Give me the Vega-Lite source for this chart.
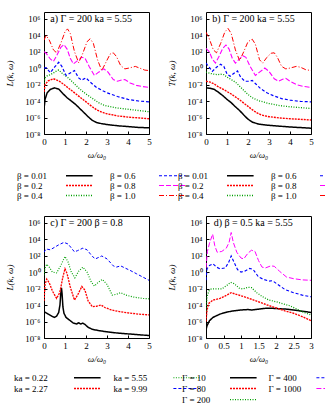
{
"$schema": "https://vega.github.io/schema/vega-lite/v6.json",
"padding": {"left": 5, "top": 11, "right": 0, "bottom": 0},
"datasets": {
"a": [
{"s":"0.01","x":0,"lg":-5.0},{"s":"0.01","x":0.05,"lg":-3.8},{"s":"0.01","x":0.15,"lg":-3.0},{"s":"0.01","x":0.3,"lg":-2.6},{"s":"0.01","x":0.5,"lg":-2.4},{"s":"0.01","x":0.7,"lg":-2.55},{"s":"0.01","x":0.9,"lg":-3.1},{"s":"0.01","x":1.1,"lg":-3.6},{"s":"0.01","x":1.3,"lg":-4.0},{"s":"0.01","x":1.5,"lg":-4.4},{"s":"0.01","x":1.7,"lg":-4.9},{"s":"0.01","x":1.9,"lg":-5.4},{"s":"0.01","x":2.1,"lg":-5.9},{"s":"0.01","x":2.3,"lg":-6.35},{"s":"0.01","x":2.5,"lg":-6.6},{"s":"0.01","x":2.75,"lg":-6.75},{"s":"0.01","x":3,"lg":-6.85},{"s":"0.01","x":3.5,"lg":-7.0},{"s":"0.01","x":4,"lg":-7.1},{"s":"0.01","x":4.5,"lg":-7.2},{"s":"0.01","x":5,"lg":-7.25},
{"s":"0.2","x":0,"lg":-2.9},{"s":"0.2","x":0.05,"lg":-2.0},{"s":"0.2","x":0.2,"lg":-1.55},{"s":"0.2","x":0.45,"lg":-1.3},{"s":"0.2","x":0.7,"lg":-1.55},{"s":"0.2","x":0.9,"lg":-1.9},{"s":"0.2","x":1.1,"lg":-2.3},{"s":"0.2","x":1.3,"lg":-2.7},{"s":"0.2","x":1.5,"lg":-3.1},{"s":"0.2","x":1.7,"lg":-3.5},{"s":"0.2","x":1.9,"lg":-3.9},{"s":"0.2","x":2.1,"lg":-4.3},{"s":"0.2","x":2.3,"lg":-4.7},{"s":"0.2","x":2.5,"lg":-5.05},{"s":"0.2","x":2.75,"lg":-5.35},{"s":"0.2","x":3,"lg":-5.55},{"s":"0.2","x":3.5,"lg":-5.8},{"s":"0.2","x":4,"lg":-5.95},{"s":"0.2","x":4.5,"lg":-6.05},{"s":"0.2","x":5,"lg":-6.15},
{"s":"0.4","x":0,"lg":-1.8},{"s":"0.4","x":0.05,"lg":-1.2},{"s":"0.4","x":0.15,"lg":-0.95},{"s":"0.4","x":0.3,"lg":-0.8},{"s":"0.4","x":0.45,"lg":-0.6},{"s":"0.4","x":0.6,"lg":-0.35},{"s":"0.4","x":0.7,"lg":-0.25},{"s":"0.4","x":0.85,"lg":-0.6},{"s":"0.4","x":1,"lg":-0.9},{"s":"0.4","x":1.2,"lg":-1.3},{"s":"0.4","x":1.4,"lg":-1.8},{"s":"0.4","x":1.6,"lg":-2.3},{"s":"0.4","x":1.8,"lg":-2.75},{"s":"0.4","x":2,"lg":-3.15},{"s":"0.4","x":2.2,"lg":-3.5},{"s":"0.4","x":2.4,"lg":-3.85},{"s":"0.4","x":2.6,"lg":-4.2},{"s":"0.4","x":2.8,"lg":-4.45},{"s":"0.4","x":3,"lg":-4.6},{"s":"0.4","x":3.5,"lg":-4.85},{"s":"0.4","x":4,"lg":-5.0},{"s":"0.4","x":4.5,"lg":-5.15},{"s":"0.4","x":5,"lg":-5.3},
{"s":"0.6","x":0,"lg":0.0},{"s":"0.6","x":0.1,"lg":0.05},{"s":"0.6","x":0.3,"lg":-0.55},{"s":"0.6","x":0.5,"lg":0.1},{"s":"0.6","x":0.7,"lg":0.7},{"s":"0.6","x":0.85,"lg":0.2},{"s":"0.6","x":1.05,"lg":-0.9},{"s":"0.6","x":1.25,"lg":-0.6},{"s":"0.6","x":1.45,"lg":-0.3},{"s":"0.6","x":1.65,"lg":-1.2},{"s":"0.6","x":1.8,"lg":-1.45},{"s":"0.6","x":2,"lg":-1.2},{"s":"0.6","x":2.2,"lg":-1.7},{"s":"0.6","x":2.5,"lg":-2.35},{"s":"0.6","x":2.8,"lg":-2.75},{"s":"0.6","x":3,"lg":-3.0},{"s":"0.6","x":3.5,"lg":-3.45},{"s":"0.6","x":4,"lg":-3.8},{"s":"0.6","x":4.5,"lg":-4.0},{"s":"0.6","x":5,"lg":-4.1},
{"s":"0.8","x":0,"lg":2.0},{"s":"0.8","x":0.1,"lg":1.8},{"s":"0.8","x":0.3,"lg":1.1},{"s":"0.8","x":0.45,"lg":0.8},{"s":"0.8","x":0.6,"lg":1.5},{"s":"0.8","x":0.8,"lg":2.5},{"s":"0.8","x":0.95,"lg":2.85},{"s":"0.8","x":1.1,"lg":2.3},{"s":"0.8","x":1.25,"lg":1.2},{"s":"0.8","x":1.4,"lg":0.5},{"s":"0.8","x":1.6,"lg":0.9},{"s":"0.8","x":1.8,"lg":1.3},{"s":"0.8","x":1.95,"lg":1.2},{"s":"0.8","x":2.15,"lg":0.2},{"s":"0.8","x":2.4,"lg":-0.9},{"s":"0.8","x":2.6,"lg":-0.5},{"s":"0.8","x":2.85,"lg":-0.1},{"s":"0.8","x":3.05,"lg":-0.5},{"s":"0.8","x":3.3,"lg":-1.4},{"s":"0.8","x":3.5,"lg":-1.6},{"s":"0.8","x":3.7,"lg":-1.45},{"s":"0.8","x":3.85,"lg":-1.4},{"s":"0.8","x":4.1,"lg":-1.8},{"s":"0.8","x":4.4,"lg":-2.1},{"s":"0.8","x":4.7,"lg":-2.25},{"s":"0.8","x":5,"lg":-2.35},
{"s":"1.0","x":0,"lg":3.4},{"s":"1.0","x":0.1,"lg":3.95},{"s":"1.0","x":0.25,"lg":3.4},{"s":"1.0","x":0.45,"lg":2.2},{"s":"1.0","x":0.6,"lg":1.85},{"s":"1.0","x":0.8,"lg":3.0},{"s":"1.0","x":1,"lg":4.4},{"s":"1.0","x":1.12,"lg":4.75},{"s":"1.0","x":1.25,"lg":4.2},{"s":"1.0","x":1.45,"lg":2.0},{"s":"1.0","x":1.65,"lg":0.65},{"s":"1.0","x":1.85,"lg":1.8},{"s":"1.0","x":2.05,"lg":3.2},{"s":"1.0","x":2.2,"lg":3.55},{"s":"1.0","x":2.35,"lg":3.0},{"s":"1.0","x":2.55,"lg":1.0},{"s":"1.0","x":2.75,"lg":-0.3},{"s":"1.0","x":2.95,"lg":0.7},{"s":"1.0","x":3.15,"lg":1.7},{"s":"1.0","x":3.3,"lg":1.85},{"s":"1.0","x":3.45,"lg":1.4},{"s":"1.0","x":3.65,"lg":0.3},{"s":"1.0","x":3.85,"lg":-0.1},{"s":"1.0","x":4.05,"lg":0.0},{"s":"1.0","x":4.35,"lg":0.2},{"s":"1.0","x":4.55,"lg":0.0},{"s":"1.0","x":4.8,"lg":-0.25},{"s":"1.0","x":5,"lg":-0.3}
],
"b": [
{"s":"0.01","x":0,"lg":-2.4},{"s":"0.01","x":0.2,"lg":-2.45},{"s":"0.01","x":0.4,"lg":-2.6},{"s":"0.01","x":0.6,"lg":-2.95},{"s":"0.01","x":0.8,"lg":-3.35},{"s":"0.01","x":1,"lg":-3.8},{"s":"0.01","x":1.2,"lg":-4.2},{"s":"0.01","x":1.4,"lg":-4.7},{"s":"0.01","x":1.6,"lg":-5.15},{"s":"0.01","x":1.8,"lg":-5.7},{"s":"0.01","x":2,"lg":-6.2},{"s":"0.01","x":2.2,"lg":-6.55},{"s":"0.01","x":2.5,"lg":-6.8},{"s":"0.01","x":3,"lg":-6.95},{"s":"0.01","x":3.5,"lg":-7.05},{"s":"0.01","x":4,"lg":-7.15},{"s":"0.01","x":4.5,"lg":-7.22},{"s":"0.01","x":5,"lg":-7.3},
{"s":"0.2","x":0,"lg":-1.6},{"s":"0.2","x":0.2,"lg":-1.7},{"s":"0.2","x":0.4,"lg":-1.95},{"s":"0.2","x":0.6,"lg":-2.3},{"s":"0.2","x":0.8,"lg":-2.55},{"s":"0.2","x":1,"lg":-2.85},{"s":"0.2","x":1.2,"lg":-3.15},{"s":"0.2","x":1.4,"lg":-3.5},{"s":"0.2","x":1.6,"lg":-3.85},{"s":"0.2","x":1.8,"lg":-4.25},{"s":"0.2","x":2,"lg":-4.65},{"s":"0.2","x":2.2,"lg":-5.05},{"s":"0.2","x":2.4,"lg":-5.4},{"s":"0.2","x":2.6,"lg":-5.65},{"s":"0.2","x":2.8,"lg":-5.8},{"s":"0.2","x":3,"lg":-5.9},{"s":"0.2","x":3.5,"lg":-6.05},{"s":"0.2","x":4,"lg":-6.15},{"s":"0.2","x":4.5,"lg":-6.22},{"s":"0.2","x":5,"lg":-6.3},
{"s":"0.4","x":0,"lg":-0.5},{"s":"0.4","x":0.2,"lg":-0.65},{"s":"0.4","x":0.4,"lg":-0.75},{"s":"0.4","x":0.55,"lg":-0.8},{"s":"0.4","x":0.7,"lg":-0.75},{"s":"0.4","x":0.85,"lg":-0.8},{"s":"0.4","x":1,"lg":-1.1},{"s":"0.4","x":1.2,"lg":-1.4},{"s":"0.4","x":1.4,"lg":-1.7},{"s":"0.4","x":1.6,"lg":-2.2},{"s":"0.4","x":1.8,"lg":-2.7},{"s":"0.4","x":2,"lg":-3.2},{"s":"0.4","x":2.2,"lg":-3.6},{"s":"0.4","x":2.5,"lg":-3.95},{"s":"0.4","x":3,"lg":-4.3},{"s":"0.4","x":3.5,"lg":-4.55},{"s":"0.4","x":4,"lg":-4.7},{"s":"0.4","x":4.5,"lg":-4.8},{"s":"0.4","x":5,"lg":-4.9},
{"s":"0.6","x":0,"lg":0.6},{"s":"0.6","x":0.15,"lg":0.1},{"s":"0.6","x":0.3,"lg":-0.4},{"s":"0.6","x":0.5,"lg":0.1},{"s":"0.6","x":0.7,"lg":0.45},{"s":"0.6","x":0.85,"lg":0.2},{"s":"0.6","x":1,"lg":-0.7},{"s":"0.6","x":1.15,"lg":-1.0},{"s":"0.6","x":1.35,"lg":-0.6},{"s":"0.6","x":1.5,"lg":-0.35},{"s":"0.6","x":1.65,"lg":-1.1},{"s":"0.6","x":1.85,"lg":-1.6},{"s":"0.6","x":2.05,"lg":-1.6},{"s":"0.6","x":2.2,"lg":-1.5},{"s":"0.6","x":2.4,"lg":-2.0},{"s":"0.6","x":2.6,"lg":-2.5},{"s":"0.6","x":2.9,"lg":-3.0},{"s":"0.6","x":3.2,"lg":-3.35},{"s":"0.6","x":3.6,"lg":-3.7},{"s":"0.6","x":4,"lg":-3.9},{"s":"0.6","x":4.5,"lg":-4.05},{"s":"0.6","x":5,"lg":-4.1},
{"s":"0.8","x":0,"lg":2.4},{"s":"0.8","x":0.15,"lg":2.0},{"s":"0.8","x":0.3,"lg":1.1},{"s":"0.8","x":0.45,"lg":0.6},{"s":"0.8","x":0.6,"lg":1.3},{"s":"0.8","x":0.8,"lg":2.4},{"s":"0.8","x":0.95,"lg":2.8},{"s":"0.8","x":1.1,"lg":2.3},{"s":"0.8","x":1.25,"lg":1.2},{"s":"0.8","x":1.4,"lg":0.6},{"s":"0.8","x":1.55,"lg":1.0},{"s":"0.8","x":1.75,"lg":1.5},{"s":"0.8","x":1.9,"lg":1.3},{"s":"0.8","x":2.1,"lg":0.2},{"s":"0.8","x":2.35,"lg":-0.9},{"s":"0.8","x":2.55,"lg":-0.5},{"s":"0.8","x":2.8,"lg":0.0},{"s":"0.8","x":3,"lg":-0.4},{"s":"0.8","x":3.25,"lg":-1.3},{"s":"0.8","x":3.45,"lg":-1.6},{"s":"0.8","x":3.65,"lg":-1.35},{"s":"0.8","x":3.8,"lg":-1.25},{"s":"0.8","x":4,"lg":-1.6},{"s":"0.8","x":4.3,"lg":-2.0},{"s":"0.8","x":4.6,"lg":-2.2},{"s":"0.8","x":5,"lg":-2.35},
{"s":"1.0","x":0,"lg":4.35},{"s":"1.0","x":0.15,"lg":3.6},{"s":"1.0","x":0.35,"lg":2.2},{"s":"1.0","x":0.5,"lg":1.85},{"s":"1.0","x":0.7,"lg":3.0},{"s":"1.0","x":0.9,"lg":4.4},{"s":"1.0","x":1.05,"lg":4.8},{"s":"1.0","x":1.2,"lg":4.2},{"s":"1.0","x":1.4,"lg":2.2},{"s":"1.0","x":1.6,"lg":0.9},{"s":"1.0","x":1.8,"lg":2.0},{"s":"1.0","x":2,"lg":3.2},{"s":"1.0","x":2.2,"lg":3.5},{"s":"1.0","x":2.35,"lg":2.9},{"s":"1.0","x":2.55,"lg":1.0},{"s":"1.0","x":2.7,"lg":0.6},{"s":"1.0","x":2.9,"lg":1.3},{"s":"1.0","x":3.1,"lg":1.8},{"s":"1.0","x":3.25,"lg":1.85},{"s":"1.0","x":3.4,"lg":1.3},{"s":"1.0","x":3.6,"lg":0.2},{"s":"1.0","x":3.8,"lg":-0.1},{"s":"1.0","x":4,"lg":0.0},{"s":"1.0","x":4.3,"lg":0.2},{"s":"1.0","x":4.5,"lg":0.1},{"s":"1.0","x":4.75,"lg":-0.2},{"s":"1.0","x":5,"lg":-0.3}
],
"c": [
{"s":"0.22","x":0,"lg":-4.8},{"s":"0.22","x":0.2,"lg":-5.1},{"s":"0.22","x":0.4,"lg":-5.4},{"s":"0.22","x":0.5,"lg":-5.5},{"s":"0.22","x":0.6,"lg":-5.35},{"s":"0.22","x":0.7,"lg":-4.9},{"s":"0.22","x":0.76,"lg":-4.0},{"s":"0.22","x":0.8,"lg":-2.6},{"s":"0.22","x":0.83,"lg":-1.9},{"s":"0.22","x":0.86,"lg":-2.6},{"s":"0.22","x":0.9,"lg":-4.2},{"s":"0.22","x":0.95,"lg":-5.0},{"s":"0.22","x":1.05,"lg":-5.5},{"s":"0.22","x":1.2,"lg":-5.8},{"s":"0.22","x":1.4,"lg":-6.2},{"s":"0.22","x":1.55,"lg":-6.3},{"s":"0.22","x":1.65,"lg":-6.15},{"s":"0.22","x":1.75,"lg":-6.3},{"s":"0.22","x":1.85,"lg":-6.2},{"s":"0.22","x":1.95,"lg":-6.35},{"s":"0.22","x":2.1,"lg":-6.7},{"s":"0.22","x":2.3,"lg":-6.95},{"s":"0.22","x":2.6,"lg":-7.1},{"s":"0.22","x":3,"lg":-7.25},{"s":"0.22","x":3.5,"lg":-7.4},{"s":"0.22","x":4,"lg":-7.5},{"s":"0.22","x":4.5,"lg":-7.6},{"s":"0.22","x":5,"lg":-7.7},
{"s":"2.27","x":0,"lg":-3.5},{"s":"2.27","x":0.05,"lg":-1.5},{"s":"2.27","x":0.13,"lg":-0.85},{"s":"2.27","x":0.25,"lg":-1.3},{"s":"2.27","x":0.4,"lg":-2.3},{"s":"2.27","x":0.6,"lg":-3.2},{"s":"2.27","x":0.75,"lg":-2.5},{"s":"2.27","x":0.9,"lg":-0.6},{"s":"2.27","x":1,"lg":0.4},{"s":"2.27","x":1.1,"lg":-0.2},{"s":"2.27","x":1.25,"lg":-1.8},{"s":"2.27","x":1.45,"lg":-3.4},{"s":"2.27","x":1.6,"lg":-2.8},{"s":"2.27","x":1.8,"lg":-1.75},{"s":"2.27","x":1.95,"lg":-2.2},{"s":"2.27","x":2.1,"lg":-3.5},{"s":"2.27","x":2.3,"lg":-4.2},{"s":"2.27","x":2.5,"lg":-4.15},{"s":"2.27","x":2.72,"lg":-4.0},{"s":"2.27","x":2.9,"lg":-4.3},{"s":"2.27","x":3.2,"lg":-4.6},{"s":"2.27","x":3.6,"lg":-4.8},{"s":"2.27","x":4,"lg":-4.95},{"s":"2.27","x":4.5,"lg":-5.1},{"s":"2.27","x":5,"lg":-5.2},
{"s":"5.55","x":0,"lg":-0.4},{"s":"5.55","x":0.05,"lg":0.5},{"s":"5.55","x":0.13,"lg":0.95},{"s":"5.55","x":0.25,"lg":0.6},{"s":"5.55","x":0.4,"lg":0.0},{"s":"5.55","x":0.6,"lg":-0.1},{"s":"5.55","x":0.8,"lg":0.8},{"s":"5.55","x":1,"lg":1.9},{"s":"5.55","x":1.15,"lg":1.2},{"s":"5.55","x":1.3,"lg":0.0},{"s":"5.55","x":1.47,"lg":-0.7},{"s":"5.55","x":1.65,"lg":0.1},{"s":"5.55","x":1.85,"lg":0.6},{"s":"5.55","x":2.05,"lg":0.0},{"s":"5.55","x":2.25,"lg":-1.2},{"s":"5.55","x":2.4,"lg":-1.7},{"s":"5.55","x":2.6,"lg":-1.2},{"s":"5.55","x":2.78,"lg":-0.9},{"s":"5.55","x":3,"lg":-1.5},{"s":"5.55","x":3.25,"lg":-2.8},{"s":"5.55","x":3.45,"lg":-2.7},{"s":"5.55","x":3.65,"lg":-2.5},{"s":"5.55","x":3.9,"lg":-2.8},{"s":"5.55","x":4.3,"lg":-3.05},{"s":"5.55","x":4.7,"lg":-3.2},{"s":"5.55","x":5,"lg":-3.25},
{"s":"9.99","x":0,"lg":2.4},{"s":"9.99","x":0.1,"lg":2.8},{"s":"9.99","x":0.3,"lg":2.7},{"s":"9.99","x":0.5,"lg":3.0},{"s":"9.99","x":0.7,"lg":3.3},{"s":"9.99","x":0.95,"lg":3.6},{"s":"9.99","x":1.15,"lg":3.4},{"s":"9.99","x":1.45,"lg":2.45},{"s":"9.99","x":1.6,"lg":2.6},{"s":"9.99","x":1.85,"lg":2.9},{"s":"9.99","x":2.05,"lg":2.7},{"s":"9.99","x":2.3,"lg":1.9},{"s":"9.99","x":2.45,"lg":1.6},{"s":"9.99","x":2.75,"lg":1.95},{"s":"9.99","x":3,"lg":1.6},{"s":"9.99","x":3.3,"lg":0.75},{"s":"9.99","x":3.45,"lg":0.6},{"s":"9.99","x":3.65,"lg":0.75},{"s":"9.99","x":3.85,"lg":0.5},{"s":"9.99","x":4.1,"lg":0.2},{"s":"9.99","x":4.4,"lg":-0.2},{"s":"9.99","x":4.7,"lg":-0.6},{"s":"9.99","x":5,"lg":-1.0}
],
"d": [
{"s":"10","x":0,"lg":-7.0},{"s":"10","x":0.03,"lg":-6.5},{"s":"10","x":0.1,"lg":-5.9},{"s":"10","x":0.2,"lg":-5.5},{"s":"10","x":0.4,"lg":-5.1},{"s":"10","x":0.6,"lg":-4.85},{"s":"10","x":0.8,"lg":-4.7},{"s":"10","x":1,"lg":-4.6},{"s":"10","x":1.2,"lg":-4.55},{"s":"10","x":1.3,"lg":-4.6},{"s":"10","x":1.5,"lg":-4.5},{"s":"10","x":1.7,"lg":-4.4},{"s":"10","x":1.9,"lg":-4.4},{"s":"10","x":2.1,"lg":-4.45},{"s":"10","x":2.3,"lg":-4.5},{"s":"10","x":2.5,"lg":-4.6},{"s":"10","x":2.75,"lg":-4.75},{"s":"10","x":3,"lg":-4.9},
{"s":"80","x":0,"lg":-6.0},{"s":"80","x":0.03,"lg":-4.6},{"s":"80","x":0.08,"lg":-3.8},{"s":"80","x":0.2,"lg":-3.4},{"s":"80","x":0.4,"lg":-3.2},{"s":"80","x":0.55,"lg":-2.9},{"s":"80","x":0.72,"lg":-2.5},{"s":"80","x":0.9,"lg":-2.75},{"s":"80","x":1.1,"lg":-3.0},{"s":"80","x":1.3,"lg":-3.3},{"s":"80","x":1.5,"lg":-3.6},{"s":"80","x":1.75,"lg":-4.0},{"s":"80","x":2,"lg":-4.35},{"s":"80","x":2.25,"lg":-4.7},{"s":"80","x":2.5,"lg":-5.0},{"s":"80","x":2.75,"lg":-5.4},{"s":"80","x":3,"lg":-5.9},
{"s":"200","x":0,"lg":-4.7},{"s":"200","x":0.03,"lg":-3.0},{"s":"200","x":0.08,"lg":-2.3},{"s":"200","x":0.15,"lg":-2.05},{"s":"200","x":0.3,"lg":-2.05},{"s":"200","x":0.45,"lg":-2.05},{"s":"200","x":0.6,"lg":-1.6},{"s":"200","x":0.7,"lg":-1.25},{"s":"200","x":0.8,"lg":-1.4},{"s":"200","x":0.95,"lg":-1.95},{"s":"200","x":1.05,"lg":-2.05},{"s":"200","x":1.2,"lg":-1.85},{"s":"200","x":1.3,"lg":-1.9},{"s":"200","x":1.45,"lg":-2.5},{"s":"200","x":1.6,"lg":-2.95},{"s":"200","x":1.8,"lg":-3.4},{"s":"200","x":2,"lg":-3.6},{"s":"200","x":2.2,"lg":-3.85},{"s":"200","x":2.4,"lg":-4.1},{"s":"200","x":2.6,"lg":-4.5},{"s":"200","x":2.8,"lg":-4.9},{"s":"200","x":3,"lg":-5.2},
{"s":"400","x":0,"lg":-1.0},{"s":"400","x":0.03,"lg":0.4},{"s":"400","x":0.1,"lg":0.8},{"s":"400","x":0.2,"lg":1.0},{"s":"400","x":0.3,"lg":0.6},{"s":"400","x":0.4,"lg":0.4},{"s":"400","x":0.55,"lg":0.5},{"s":"400","x":0.65,"lg":1.2},{"s":"400","x":0.72,"lg":1.95},{"s":"400","x":0.8,"lg":1.2},{"s":"400","x":0.9,"lg":0.3},{"s":"400","x":1,"lg":0.0},{"s":"400","x":1.1,"lg":0.1},{"s":"400","x":1.25,"lg":0.45},{"s":"400","x":1.35,"lg":0.3},{"s":"400","x":1.5,"lg":-0.6},{"s":"400","x":1.65,"lg":-0.9},{"s":"400","x":1.8,"lg":-1.1},{"s":"400","x":1.9,"lg":-1.05},{"s":"400","x":2.05,"lg":-1.5},{"s":"400","x":2.25,"lg":-2.1},{"s":"400","x":2.5,"lg":-2.5},{"s":"400","x":2.75,"lg":-2.8},{"s":"400","x":3,"lg":-3.0},
{"s":"1000","x":0,"lg":0.5},{"s":"1000","x":0.04,"lg":2.5},{"s":"1000","x":0.1,"lg":3.5},{"s":"1000","x":0.19,"lg":4.6},{"s":"1000","x":0.25,"lg":3.2},{"s":"1000","x":0.32,"lg":2.4},{"s":"1000","x":0.45,"lg":2.5},{"s":"1000","x":0.58,"lg":2.9},{"s":"1000","x":0.66,"lg":3.6},{"s":"1000","x":0.72,"lg":4.8},{"s":"1000","x":0.78,"lg":3.6},{"s":"1000","x":0.88,"lg":2.4},{"s":"1000","x":1,"lg":1.7},{"s":"1000","x":1.08,"lg":1.6},{"s":"1000","x":1.2,"lg":2.3},{"s":"1000","x":1.3,"lg":2.65},{"s":"1000","x":1.4,"lg":2.5},{"s":"1000","x":1.5,"lg":1.4},{"s":"1000","x":1.6,"lg":0.6},{"s":"1000","x":1.7,"lg":0.5},{"s":"1000","x":1.85,"lg":0.75},{"s":"1000","x":1.95,"lg":0.7},{"s":"1000","x":2.1,"lg":0.1},{"s":"1000","x":2.3,"lg":-0.6},{"s":"1000","x":2.5,"lg":-0.8},{"s":"1000","x":2.75,"lg":-0.95},{"s":"1000","x":3,"lg":-1.0}
]
},
"concat": [
{"width": 105, "height": 122,
 "layer": [
  {"data": {"name": "a"}, "mark": {"type": "line", "clip": true},
   "encoding": {
    "x": {"field": "x", "type": "quantitative", "scale": {"domain": [0, 5], "nice": false}, "axis": {"values": [0,1,2,3,4,5], "tickCount": 20, "format": "~g", "title": "ω/ω₀", "labelOverlap": false}},
    "y": {"field": "lg", "type": "quantitative", "scale": {"domain": [-8, 6.8], "nice": false, "zero": false}, "axis": {"values": [-8,-6,-4,-2,0,2,4,6], "tickCount": 20, "title": "L(k, ω)", "labelOverlap": false, "labelExpr": "'10' + (datum.value < 0 ? '⁻' : '') + substring('⁰¹²³⁴⁵⁶⁷⁸⁹', abs(datum.value), abs(datum.value) + 1)"}},
    "color": {"field": "s", "type": "nominal", "scale": {"domain": ["0.01","0.2","0.4","0.6","0.8","1.0"], "range": ["#000000","#ff0000","#00a000","#0000ff","#ff00ff","#ff0000"]}, "legend": {"title": null, "labelExpr": "'β = ' + datum.label", "legendX": -29, "legendY": 159, "symbolOffset": 59.8, "labelOffset": -66.8, "columnPadding": 12, "rowPadding": 0}},
    "strokeDash": {"field": "s", "type": "nominal", "scale": {"domain": ["0.01","0.2","0.4","0.6","0.8","1.0"], "range": [[1,0],[2,1],[1,1.5],[3,2],[5,2],[5,2,1,2]]}, "legend": {"title": null, "labelExpr": "'β = ' + datum.label", "legendX": -29, "legendY": 159, "symbolOffset": 59.8, "labelOffset": -66.8, "columnPadding": 12, "rowPadding": 0}},
    "strokeWidth": {"field": "s", "type": "nominal", "scale": {"domain": ["0.01","0.2","0.4","0.6","0.8","1.0"], "range": [1.5,1,1,1,1,1]}, "legend": null}
   }},
  {"data": {"values": [{}]}, "mark": {"type": "text", "align": "left", "baseline": "middle", "fontSize": 10},
   "encoding": {"x": {"datum": 0.3}, "y": {"datum": 6}, "text": {"value": "a) Γ = 200   ka = 5.55"}}}
 ]},
{"width": 105, "height": 122,
 "layer": [
  {"data": {"name": "b"}, "mark": {"type": "line", "clip": true},
   "encoding": {
    "x": {"field": "x", "type": "quantitative", "scale": {"domain": [0, 5], "nice": false}, "axis": {"values": [0,1,2,3,4,5], "tickCount": 20, "format": "~g", "title": "ω/ω₀", "labelOverlap": false}},
    "y": {"field": "lg", "type": "quantitative", "scale": {"domain": [-8, 6.8], "nice": false, "zero": false}, "axis": {"values": [-8,-6,-4,-2,0,2,4,6], "tickCount": 20, "title": "T(k, ω)", "labelOverlap": false, "labelExpr": "'10' + (datum.value < 0 ? '⁻' : '') + substring('⁰¹²³⁴⁵⁶⁷⁸⁹', abs(datum.value), abs(datum.value) + 1)"}},
    "color": {"field": "s", "type": "nominal", "scale": {"domain": ["0.01","0.2","0.4","0.6","0.8","1.0"], "range": ["#000000","#ff0000","#00a000","#0000ff","#ff00ff","#ff0000"]}, "legend": {"title": null, "labelExpr": "'β = ' + datum.label", "legendX": -30, "legendY": 159, "symbolOffset": 59.8, "labelOffset": -66.8, "columnPadding": 12, "rowPadding": 0}},
    "strokeDash": {"field": "s", "type": "nominal", "scale": {"domain": ["0.01","0.2","0.4","0.6","0.8","1.0"], "range": [[1,0],[2,1],[1,1.5],[3,2],[5,2],[5,2,1,2]]}, "legend": {"title": null, "labelExpr": "'β = ' + datum.label", "legendX": -30, "legendY": 159, "symbolOffset": 59.8, "labelOffset": -66.8, "columnPadding": 12, "rowPadding": 0}},
    "strokeWidth": {"field": "s", "type": "nominal", "scale": {"domain": ["0.01","0.2","0.4","0.6","0.8","1.0"], "range": [1.5,1,1,1,1,1]}, "legend": null}
   }},
  {"data": {"values": [{}]}, "mark": {"type": "text", "align": "left", "baseline": "middle", "fontSize": 10},
   "encoding": {"x": {"datum": 0.3}, "y": {"datum": 6}, "text": {"value": "b) Γ = 200   ka = 5.55"}}}
 ]},
{"width": 105, "height": 122,
 "layer": [
  {"data": {"name": "c"}, "mark": {"type": "line", "clip": true},
   "encoding": {
    "x": {"field": "x", "type": "quantitative", "scale": {"domain": [0, 5], "nice": false}, "axis": {"values": [0,1,2,3,4,5], "tickCount": 20, "format": "~g", "title": "ω/ω₀", "labelOverlap": false}},
    "y": {"field": "lg", "type": "quantitative", "scale": {"domain": [-8, 6.8], "nice": false, "zero": false}, "axis": {"values": [-8,-6,-4,-2,0,2,4,6], "tickCount": 20, "title": "L(k, ω)", "labelOverlap": false, "labelExpr": "'10' + (datum.value < 0 ? '⁻' : '') + substring('⁰¹²³⁴⁵⁶⁷⁸⁹', abs(datum.value), abs(datum.value) + 1)"}},
    "color": {"field": "s", "type": "nominal", "scale": {"domain": ["0.22","2.27","5.55","9.99"], "range": ["#000000","#ff0000","#00a000","#0000ff"]}, "legend": {"title": null, "labelExpr": "'ka = ' + datum.label", "legendX": -32, "legendY": 157, "symbolOffset": 70.8, "labelOffset": -77.8, "columnPadding": 7.4, "rowPadding": 1}},
    "strokeDash": {"field": "s", "type": "nominal", "scale": {"domain": ["0.22","2.27","5.55","9.99"], "range": [[1,0],[2,1],[1,1.5],[3,2]]}, "legend": {"title": null, "labelExpr": "'ka = ' + datum.label", "legendX": -32, "legendY": 157, "symbolOffset": 70.8, "labelOffset": -77.8, "columnPadding": 7.4, "rowPadding": 1}},
    "strokeWidth": {"field": "s", "type": "nominal", "scale": {"domain": ["0.22","2.27","5.55","9.99"], "range": [1.5,1,1,1]}, "legend": null}
   }},
  {"data": {"values": [{}]}, "mark": {"type": "text", "align": "left", "baseline": "middle", "fontSize": 10},
   "encoding": {"x": {"datum": 0.3}, "y": {"datum": 6}, "text": {"value": "c) Γ = 200   β = 0.8"}}}
 ]},
{"width": 105, "height": 122,
 "layer": [
  {"data": {"name": "d"}, "mark": {"type": "line", "clip": true},
   "encoding": {
    "x": {"field": "x", "type": "quantitative", "scale": {"domain": [0, 3], "nice": false}, "axis": {"values": [0,0.5,1,1.5,2,2.5,3], "tickCount": 20, "format": "~g", "title": "ω/ω₀", "labelOverlap": false}},
    "y": {"field": "lg", "type": "quantitative", "scale": {"domain": [-8, 6.8], "nice": false, "zero": false}, "axis": {"values": [-8,-6,-4,-2,0,2,4,6], "tickCount": 20, "title": "L(k, ω)", "labelOverlap": false, "labelExpr": "'10' + (datum.value < 0 ? '⁻' : '') + substring('⁰¹²³⁴⁵⁶⁷⁸⁹', abs(datum.value), abs(datum.value) + 1)"}},
    "color": {"field": "s", "type": "nominal", "scale": {"domain": ["10","80","200","400","1000"], "range": ["#000000","#ff0000","#00a000","#0000ff","#ff00ff"]}, "legend": {"title": null, "labelExpr": "'Γ = ' + datum.label", "legendX": -26, "legendY": 157, "symbolOffset": 58.8, "labelOffset": -65.8, "columnPadding": 6.4, "rowPadding": 1}},
    "strokeDash": {"field": "s", "type": "nominal", "scale": {"domain": ["10","80","200","400","1000"], "range": [[1,0],[2,1],[1,1.5],[3,2],[5,2]]}, "legend": {"title": null, "labelExpr": "'Γ = ' + datum.label", "legendX": -26, "legendY": 157, "symbolOffset": 58.8, "labelOffset": -65.8, "columnPadding": 6.4, "rowPadding": 1}},
    "strokeWidth": {"field": "s", "type": "nominal", "scale": {"domain": ["10","80","200","400","1000"], "range": [1.5,1,1,1,1]}, "legend": null}
   }},
  {"data": {"values": [{}]}, "mark": {"type": "text", "align": "left", "baseline": "middle", "fontSize": 10},
   "encoding": {"x": {"datum": 0.22}, "y": {"datum": 6}, "text": {"value": "d) β = 0.5   ka = 5.55"}}}
 ]}
],
"columns": 2,
"bounds": "flush",
"spacing": {"row": 82, "column": 57},
"resolve": {"scale": {"color": "independent", "strokeDash": "independent", "strokeWidth": "independent"}},
"config": {
 "font": "Liberation Serif",
 "view": {"stroke": "#000000", "strokeWidth": 1},
 "text": {"font": "Liberation Serif", "color": "#000000"},
 "axis": {"grid": false, "domain": false, "labelFont": "Liberation Serif", "labelFontSize": 9, "labelColor": "#000000", "labelOverlap": false, "labelFlush": false, "labelBound": false, "titleFont": "Liberation Serif", "titleFontSize": 9, "titleFontWeight": "normal", "titleFontStyle": "italic", "titleColor": "#000000", "tickColor": "#000000", "tickSize": -3},
 "axisX": {"labelPadding": 6, "titlePadding": 4},
 "axisY": {"labelPadding": 7, "titlePadding": 10},
 "legend": {"orient": "none", "columns": 2, "symbolType": "M-3.8,0H3.8", "symbolSize": 49, "symbolStrokeWidth": 1, "labelFont": "Liberation Serif", "labelFontSize": 9, "labelColor": "#000000", "padding": 0}
}
}
